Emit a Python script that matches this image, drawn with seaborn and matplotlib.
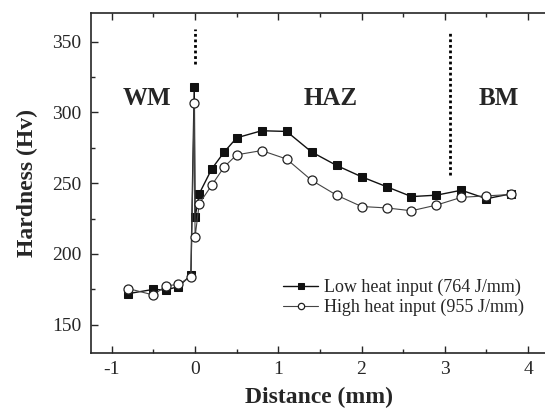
import pandas as pd
import matplotlib.pyplot as plt
import seaborn as sns

# --- data ---
dist_low = [-0.8, -0.5, -0.35, -0.2, -0.05, -0.01, 0.0, 0.05, 0.2, 0.35, 0.5, 0.8, 1.1,
            1.4, 1.7, 2.0, 2.3, 2.6, 2.9, 3.2, 3.5, 3.8]
hv_low = [172, 175, 174.5, 177, 185, 318, 226, 242.5, 260, 272, 282, 287, 286.5,
          272, 262.5, 254.5, 247.5, 240.5, 241.5, 245, 239, 242.5]

dist_high = [-0.8, -0.5, -0.35, -0.2, -0.05, -0.01, 0.0, 0.05, 0.2, 0.35, 0.5, 0.8, 1.1,
             1.4, 1.7, 2.0, 2.3, 2.6, 2.9, 3.2, 3.5, 3.8]
hv_high = [175.5, 171, 177.5, 178.5, 184, 306.5, 212, 235.5, 248.5, 261.5, 270, 273, 267,
           252, 241.5, 233.5, 232.5, 230.5, 234.5, 240, 241, 242]

label_low = "Low heat input (764 J/mm)"
label_high = "High heat input (955 J/mm)"

df_low = pd.DataFrame({"Distance": dist_low, "Hardness": hv_low})
df_high = pd.DataFrame({"Distance": dist_high, "Hardness": hv_high})

# --- style ---
sns.set_style("ticks")
plt.rcParams["font.family"] = ["Liberation Serif", "DejaVu Serif"]
plt.rcParams["axes.unicode_minus"] = False
plt.rcParams["xtick.direction"] = "in"
plt.rcParams["ytick.direction"] = "in"

fig = plt.figure(figsize=(5.45, 4.12), dpi=100)
ax = fig.add_axes([0.167, 0.143, 0.837, 0.825])

sns.lineplot(data=df_low, x="Distance", y="Hardness", ax=ax, sort=False, estimator=None,
             color="#111111", lw=1.0, marker="s", markersize=6, markeredgecolor="#111111",
             markerfacecolor="#111111", label=label_low)
sns.lineplot(data=df_high, x="Distance", y="Hardness", ax=ax, sort=False, estimator=None,
             color="#444444", lw=0.8, marker="o", markersize=6.5, markeredgecolor="#222222",
             markerfacecolor="white", markeredgewidth=0.9, label=label_high)

# zone separators
ax.plot([0, 0], [334, 359], ls=(0, (1, 1)), color="black", lw=2)
ax.plot([3.06, 3.06], [256, 356], ls=(0, (1, 1)), color="black", lw=2)

# zone labels
ax.text(-0.58, 310, "WM", ha="center", va="center", fontsize=18, fontweight="bold")
ax.text(1.63, 310, "HAZ", ha="center", va="center", fontsize=18, fontweight="bold")
ax.text(3.65, 310, "BM", ha="center", va="center", fontsize=18, fontweight="bold")

ax.set_xlim(-1.25, 4.23)
ax.set_ylim(130, 370)
ax.set_xticks([-1, 0, 1, 2, 3, 4])
ax.set_xticks([-0.5, 0.5, 1.5, 2.5, 3.5], minor=True)
ax.set_yticks([150, 200, 250, 300, 350])
ax.set_yticks([175, 225, 275, 325], minor=True)
ax.tick_params(which="both", top=True, right=False, labelsize=14, width=1)
ax.tick_params(which="major", length=5)
ax.tick_params(which="minor", length=3)
ax.tick_params(axis="y", pad=7)
ax.tick_params(axis="x", pad=6)
for s in ["left", "bottom", "top"]:
    ax.spines[s].set_visible(True)
    ax.spines[s].set_linewidth(1.2)
ax.spines["right"].set_visible(False)

ax.set_xlabel("Distance (mm)", fontsize=17, fontweight="bold", labelpad=6)
ax.set_ylabel("Hardness (Hv)", fontsize=17, fontweight="bold", labelpad=10)

ax.legend(loc="lower right", bbox_to_anchor=(0.985, 0.06), frameon=False, fontsize=13,
          handlelength=1.9, handletextpad=0.35, labelspacing=0.15, markerscale=0.7)

fig.savefig("out.png", dpi=100)
